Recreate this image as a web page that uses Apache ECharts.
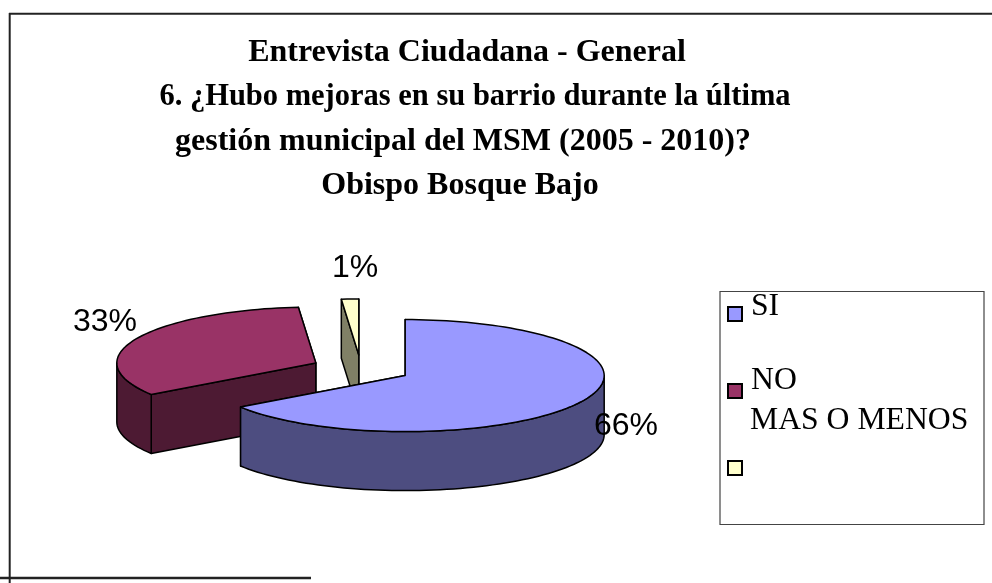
<!DOCTYPE html>
<html>
<head>
<meta charset="utf-8">
<style>html,body{margin:0;padding:0;background:#fff}#c{width:992px;height:583px}</style>
<script src="https://cdn.jsdelivr.net/npm/echarts@6/dist/echarts.min.js"></script>
</head>
<body>
<div id="c"></div>
<script>
var categories = ['SI', 'NO', 'MAS O MENOS'];
var values = [65.5, 33.1, 1.4];
var titleLines = [
  'Entrevista Ciudadana - General',
  '6. ¿Hubo mejoras en su barrio durante la última',
  'gestión municipal del MSM (2005 - 2010)?',
  'Obispo Bosque Bajo'
];

var colors = ['#9999FF', '#993366', '#FFFFCC'];
var wallColors = ['#4D4D80', '#4D1A33', '#808066'];
var titleCenters = [462, 470, 458, 455];
var titleTops = [32, 77, 121, 165];
var titleSizes = [32, 30.5, 32, 32];
var legendTextPos = [[751, 307], [751, 381], [750, 421]];
var labelPos = [[626, 426], [105, 322], [355, 268]];
var drawZ = [3, 2, 1];

var CX = 361, CY = 369, RX = 199, RY = 56, DEPTH = 59, EXPLODE = 50;
var total = values.reduce(function (a, b) { return a + b; }, 0);

function pt(c, deg, dz) {
  var t = deg * Math.PI / 180;
  return [c[0] + RX * Math.sin(t), c[1] - RY * Math.cos(t) + (dz || 0)];
}
function arc(c, a, b, dz) {
  var out = [], n = Math.max(2, Math.ceil(Math.abs(b - a) / 2));
  for (var i = 0; i <= n; i++) out.push(pt(c, a + (b - a) * i / n, dz));
  return out;
}
function polygon(points, fill, z2) {
  return {
    type: 'polygon', z2: z2, shape: { points: points },
    style: { fill: fill, stroke: '#000', lineWidth: 1.5, lineJoin: 'round' }
  };
}
function sliceItem(idx) {
  return function (params, api) {
    var start = 0;
    for (var i = 0; i < idx; i++) start += values[i] / total * 360;
    var end = start + api.value(0) / total * 360;
    var mid = (start + end) / 2 * Math.PI / 180;
    var c = [CX + EXPLODE * Math.sin(mid), CY - EXPLODE * RY / RX * Math.cos(mid)];
    var base = drawZ[idx] * 10, kids = [];
    var wall = wallColors[idx];
    function radial(deg, z) {
      var p = pt(c, deg);
      kids.push(polygon([p, c, [c[0], c[1] + DEPTH], [p[0], p[1] + DEPTH]], wall, z));
    }
    radial(end, base);
    radial(start, base + 1);
    var a = Math.max(start, 90), b = Math.min(end, 270);
    if (b > a) {
      kids.push(polygon(arc(c, a, b, 0).concat(arc(c, b, a, DEPTH)), wall, base + 2));
    }
    kids.push(polygon([c].concat(arc(c, start, end, 0)), colors[idx], base + 3));
    kids.push({
      type: 'text', z2: 100,
      style: {
        x: labelPos[idx][0], y: labelPos[idx][1],
        text: Math.round(api.value(0) / total * 100) + '%',
        fill: '#000', align: 'center', verticalAlign: 'middle',
        font: '32px "Liberation Sans", Arial, sans-serif'
      }
    });
    return { type: 'group', children: kids };
  };
}

var drawOrder = [2, 1, 0];
var series = drawOrder.map(function (i) {
  return {
    type: 'custom', name: categories[i], coordinateSystem: 'none',
    data: [[values[i]]], renderItem: sliceItem(i), z: drawZ[i] + 2,
    silent: true, animation: false,
    itemStyle: { color: colors[i], borderColor: '#000', borderWidth: 1.5 }
  };
});

var frame = [
  { a: [9.7, 13], b: [9.7, 583], w: 2 },
  { a: [9, 13.7], b: [992, 13.7], w: 2 },
  { a: [0, 578], b: [311, 578], w: 2.5 }
].map(function (l) {
  return {
    type: 'line', shape: { x1: l.a[0], y1: l.a[1], x2: l.b[0], y2: l.b[1] },
    style: { stroke: '#222', lineWidth: l.w }, z: 1
  };
});
var legendTexts = categories.map(function (t, i) {
  return {
    type: 'text', z: 5,
    style: {
      x: legendTextPos[i][0], y: legendTextPos[i][1], text: t, fill: '#000',
      align: 'left', verticalAlign: 'middle',
      font: '31.7px "Liberation Serif", "Times New Roman", serif'
    }
  };
});
var legendBox = {
  type: 'rect', z: 0, shape: { x: 720, y: 291.5, width: 264, height: 233 },
  style: { fill: '#fff', stroke: '#444', lineWidth: 1.2 }
};

var chart = echarts.init(document.getElementById('c'), null, { renderer: 'canvas' });
chart.setOption({
  backgroundColor: '#fff',
  animation: false,
  title: titleLines.map(function (t, i) {
    return {
      text: t, left: titleCenters[i], top: titleTops[i], textAlign: 'center',
      textStyle: {
        fontFamily: '"Liberation Serif", "Times New Roman", serif',
        fontWeight: 'bold', fontSize: titleSizes[i], color: '#000'
      }
    };
  }),
  legend: {
    orient: 'vertical', left: 722, top: 301, itemWidth: 14, itemHeight: 14, itemGap: 61,
    icon: 'rect', data: categories, selectedMode: false,
    formatter: function () { return ' '; },
    textStyle: { fontSize: 10, lineHeight: 12 }
  },
  graphic: { elements: frame.concat([legendBox]).concat(legendTexts) },
  series: series
});
</script>
</body>
</html>
